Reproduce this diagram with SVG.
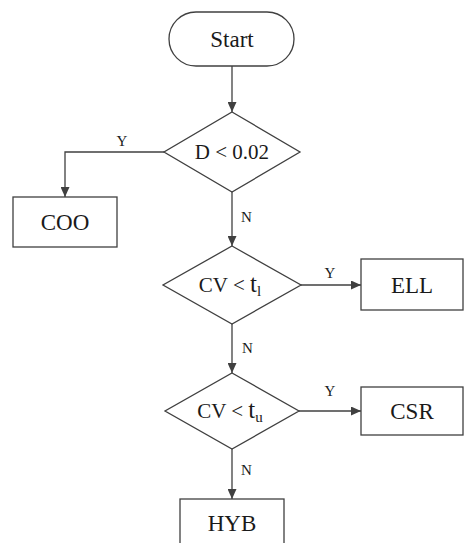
<svg xmlns="http://www.w3.org/2000/svg" width="464" height="543" viewBox="0 0 464 543">
<style>
.shape{fill:#fff;stroke:#404040;stroke-width:1.3}
.conn{fill:none;stroke:#404040;stroke-width:1.3}
text{fill:#1a1a1a}
.big{font-size:23px;text-anchor:middle}
.mid{font-size:21px;text-anchor:middle}
.lbl{font-size:15px}
</style>
<defs>
<marker id="arr" markerUnits="userSpaceOnUse" markerWidth="10" markerHeight="9" refX="10" refY="4.5" orient="auto">
<path d="M0,0 L10,4.5 L0,9 z" fill="#404040"/>
</marker>
</defs>
<g font-family="'Liberation Serif', 'DejaVu Serif', serif">
<g id="connectors">
<path class="conn" d="M232,66 V112" marker-end="url(#arr)"/>
<path class="conn" d="M164,152 H65 V197" marker-end="url(#arr)"/>
<path class="conn" d="M232,192 V246" marker-end="url(#arr)"/>
<path class="conn" d="M301,285 H361" marker-end="url(#arr)"/>
<path class="conn" d="M232,324 V373" marker-end="url(#arr)"/>
<path class="conn" d="M299,411 H361" marker-end="url(#arr)"/>
<path class="conn" d="M232,449 V499" marker-end="url(#arr)"/>
<text class="lbl" x="122" y="146" text-anchor="middle">Y</text>
<text class="lbl" x="241" y="222">N</text>
<text class="lbl" x="330" y="278" text-anchor="middle">Y</text>
<text class="lbl" x="242" y="353">N</text>
<text class="lbl" x="330" y="396" text-anchor="middle">Y</text>
<text class="lbl" x="241" y="475">N</text>
</g>
<g id="start">
<rect class="shape" x="169" y="12" width="125" height="54" rx="27"/>
<text class="big" x="232" y="47">Start</text>
</g>
<g id="d1">
<polygon class="shape" points="232,112 300,152 232,192 164,152"/>
<text class="mid" x="232" y="159">D &lt; 0.02</text>
</g>
<g id="coo">
<rect class="shape" x="13" y="197" width="104" height="50"/>
<text class="big" x="65" y="230">COO</text>
</g>
<g id="d2">
<polygon class="shape" points="232,246 301,285 232,324 163,285"/>
<text class="mid" x="230" y="292">CV &lt; <tspan font-size="25">t</tspan><tspan font-size="15" dy="4">l</tspan></text>
</g>
<g id="ell">
<rect class="shape" x="361" y="259" width="102" height="51"/>
<text class="big" x="412" y="293">ELL</text>
</g>
<g id="d3">
<polygon class="shape" points="232,373 299,411 232,449 165,411"/>
<text class="mid" x="230" y="418">CV &lt; <tspan font-size="25">t</tspan><tspan font-size="15" dy="4">u</tspan></text>
</g>
<g id="csr">
<rect class="shape" x="361" y="387" width="102" height="48"/>
<text class="big" x="412" y="419">CSR</text>
</g>
<g id="hyb">
<rect class="shape" x="180" y="499" width="104" height="50"/>
<text class="big" x="232" y="531">HYB</text>
</g>
</g>
</svg>
